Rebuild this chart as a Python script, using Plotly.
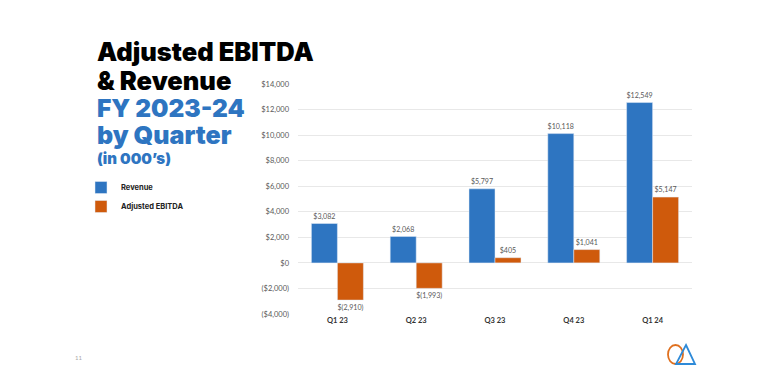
import plotly.graph_objects as go

quarters = ["Q1 23", "Q2 23", "Q3 23", "Q4 23", "Q1 24"]
revenue = [3082, 2068, 5797, 10118, 12549]
ebitda = [-2910, -1993, 405, 1041, 5147]
ytick_vals = [-4000, -2000, 0, 2000, 4000, 6000, 8000, 10000, 12000, 14000]

BLUE = "#2E75C1"
ORANGE = "#CF5A0C"


def bar_label(v):
    return f"$({abs(v):,})" if v < 0 else f"${v:,}"


def tick_label(v):
    return f"(${abs(v):,})" if v < 0 else f"${v:,}"


fig = go.Figure()
fig.add_trace(go.Bar(
    x=quarters, y=revenue, name="Revenue", marker_color=BLUE,
    text=[bar_label(v) for v in revenue], textposition="outside",
    textfont=dict(size=8.5, color="#595959", family="Lato"), cliponaxis=False,
))
fig.add_trace(go.Bar(
    x=quarters, y=ebitda, name="Adjusted EBITDA", marker_color=ORANGE,
    text=[bar_label(v) for v in ebitda], textposition="outside",
    textfont=dict(size=8.5, color="#595959", family="Lato"), cliponaxis=False,
))

L, R, T, B = 298, 76, 84, 70
W = 768 - L - R


def px(x):
    return (x - L) / W


H = 384 - T - B


def py(y):
    return 1 - (y - T) / H


fig.update_layout(
    width=768, height=384,
    margin=dict(l=L, r=R, t=T, b=B, pad=0),
    paper_bgcolor="white", plot_bgcolor="white",
    barmode="group", bargap=0.34, bargroupgap=0,
    uniformtext=dict(minsize=7, mode="show"),
    showlegend=True,
    legend=dict(
        xref="container", yref="container", x=81 / 768, y=1 - 173 / 384,
        xanchor="left", yanchor="top",
        font=dict(size=7.5, color="#222222", family="Inter", weight=700),
        itemwidth=30, tracegroupgap=0, bgcolor="rgba(0,0,0,0)",
    ),
    xaxis=dict(
        showgrid=False, showline=False, ticks="", automargin=False,
        tickfont=dict(size=7.5, color="#333333", family="Lato", weight=700),
    ),
    yaxis=dict(
        range=[-4000, 14000], tickvals=ytick_vals,
        ticktext=[tick_label(v) for v in ytick_vals], automargin=False,
        showgrid=True, gridcolor="#E8E8E8", gridwidth=1,
        zeroline=True, zerolinecolor="#E8E8E8", zerolinewidth=1,
        showline=False, ticks="", ticklabelstandoff=8,
        tickfont=dict(size=7.5, color="#595959", family="Lato"),
    ),
    font=dict(family="Lato"),
)

titles = [
    ("Adjusted EBITDA", 52, 25.5, "#000000"),
    ("& Revenue", 80, 25.5, "#000000"),
    ("FY 2023-24", 108, 24.5, BLUE),
    ("by Quarter", 135, 25, BLUE),
    ("(in 000’s)", 158, 15, BLUE),
]
for txt, yc, sz, col in titles:
    fig.add_annotation(
        xref="paper", yref="paper", x=px(95), y=py(yc),
        xanchor="left", yanchor="middle", showarrow=False, text=txt,
        font=dict(family="Inter", size=sz, color=col, weight=900),
    )

fig.add_annotation(
    xref="paper", yref="paper", x=px(72.5), y=py(363), showarrow=False,
    text="11", font=dict(family="Lato", size=6, color="#AAAAAA"),
)

# logo
fig.add_shape(type="circle", xref="paper", yref="paper",
              x0=px(668), x1=px(683), y0=py(364), y1=py(345),
              line=dict(color="#E0701E", width=1.8))
tri = f"M {px(686)},{py(345)} L {px(695)},{py(364)} L {px(676)},{py(364)} Z"
fig.add_shape(type="path", xref="paper", yref="paper", path=tri,
              line=dict(color="#2E8AD8", width=1.8))

fig.write_html("out.html", config={"displayModeBar": False},
               post_script="document.body.style.margin='0';")
